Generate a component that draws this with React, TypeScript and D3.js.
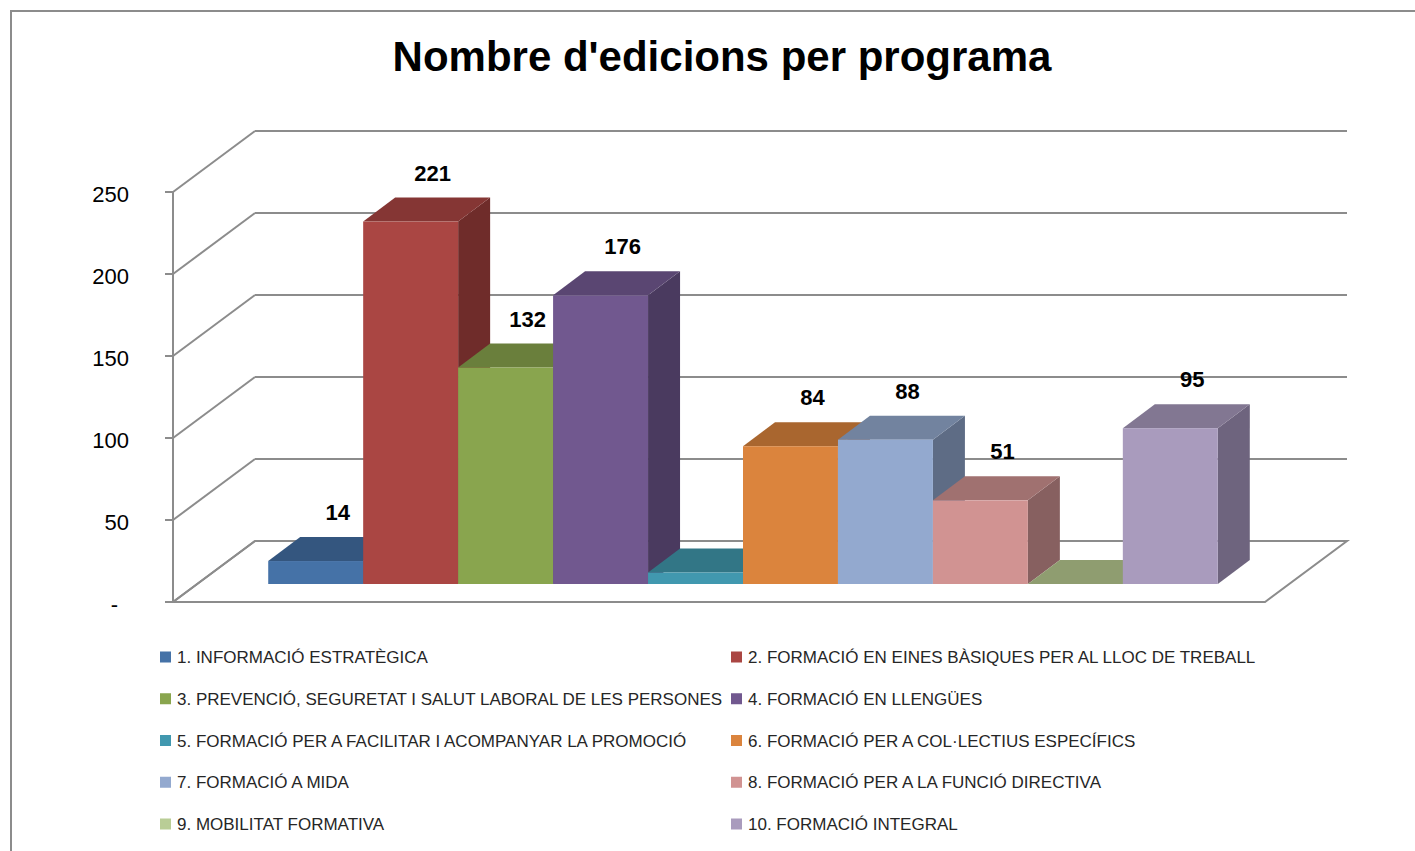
import React from "react";
import * as d3 from "d3";

const programs = [
  "1. INFORMACIÓ ESTRATÈGICA",
  "2. FORMACIÓ EN EINES BÀSIQUES PER AL LLOC DE TREBALL",
  "3. PREVENCIÓ, SEGURETAT I SALUT LABORAL DE LES PERSONES",
  "4. FORMACIÓ EN LLENGÜES",
  "5. FORMACIÓ PER A FACILITAR I ACOMPANYAR LA PROMOCIÓ",
  "6. FORMACIÓ PER A COL·LECTIUS ESPECÍFICS",
  "7. FORMACIÓ A MIDA",
  "8. FORMACIÓ PER A LA FUNCIÓ DIRECTIVA",
  "9. MOBILITAT FORMATIVA",
  "10. FORMACIÓ INTEGRAL",
];
const editions = [14, 221, 132, 176, 7, 84, 88, 51, 0, 95];
const labelShown = [true, true, true, true, false, true, true, true, false, true];
const yTicks = [0, 50, 100, 150, 200, 250];
const title = "Nombre d'edicions per programa";

const frontColors = ["#4572A7", "#AA4643", "#89A54E", "#71588F", "#4198AF", "#DB843D", "#93A9CF", "#D19392", "#B9CD96", "#A99BBD"];
const topColors = ["#34567F", "#853634", "#6A7F3C", "#5A4672", "#327686", "#A9662F", "#72839F", "#A07170", "#8F9D70", "#827792"];
const sideColors = ["#2C4A6D", "#6F2C2A", "#5A6C33", "#4A3A5F", "#2A6371", "#8F5628", "#5E6C85", "#876060", "#79855F", "#6E647E"];

const W = 1415;
const H = 851;
const FRONT_X0 = 173;
const FRONT_X1 = 1265;
const DEPTH_DX = 82;
const DEPTH_DY = -61;
const BAR_OFF_X = 24;
const BAR_OFF_Y = -18;
const BAR_DX = 32;
const BAR_DY = -24;
const GRID = "#8c8c8c";

export default function App() {
  const y = d3.scaleLinear().domain([0, 250]).range([602, 192]);
  const x = d3
    .scaleBand<string>()
    .domain(programs)
    .range([FRONT_X0 + BAR_OFF_X, FRONT_X1 + BAR_OFF_X])
    .paddingInner(0)
    .paddingOuter(0.75);
  const bw = x.bandwidth();
  const y0 = y(0);

  const floor = [
    [FRONT_X0, y0],
    [FRONT_X1, y0],
    [FRONT_X1 + DEPTH_DX, y0 + DEPTH_DY],
    [FRONT_X0 + DEPTH_DX, y0 + DEPTH_DY],
  ];
  const pts = (p: number[][]) => p.map((d) => d.join(",")).join(" ");

  const legendRows = Math.ceil(programs.length / 2);
  const legendY = d3.scaleLinear().domain([0, legendRows - 1]).range([657, 824]);
  const legendX = [160, 731];

  return (
    <svg
      width={W}
      height={H}
      style={{ position: "absolute", left: 0, top: 0, background: "#fff" }}
      fontFamily="'Liberation Sans', Arial, sans-serif"
    >
      <rect x={0} y={0} width={W} height={H} fill="#fff" />
      <rect x={11} y={11} width={W + 20} height={H + 20} fill="none" stroke={GRID} strokeWidth={2} />

      <text x={722} y={71} textAnchor="middle" fontSize={42} fontWeight="bold" fill="#000">
        {title}
      </text>

      {/* floor */}
      <polygon points={pts(floor)} fill="#fff" stroke={GRID} strokeWidth={2} />

      {/* side wall diagonals and back wall gridlines */}
      {yTicks.map((t) => (
        <g key={"g" + t}>
          <line x1={FRONT_X0} y1={y(t)} x2={FRONT_X0 + DEPTH_DX} y2={y(t) + DEPTH_DY} stroke={GRID} strokeWidth={2} />
          <line
            x1={FRONT_X0 + DEPTH_DX}
            y1={y(t) + DEPTH_DY}
            x2={FRONT_X1 + DEPTH_DX}
            y2={y(t) + DEPTH_DY}
            stroke={GRID}
            strokeWidth={2}
          />
        </g>
      ))}

      {/* front value axis */}
      <line x1={FRONT_X0} y1={y(250)} x2={FRONT_X0} y2={y0} stroke={GRID} strokeWidth={2} />
      {yTicks.map((t) => (
        <g key={"t" + t}>
          <line x1={FRONT_X0 - 8} y1={y(t)} x2={FRONT_X0} y2={y(t)} stroke={GRID} strokeWidth={2} />
          <text x={t === 0 ? 118 : 129} y={y(t) + 10} textAnchor="end" fontSize={22} fill="#000">
            {t === 0 ? "-" : d3.format("d")(t)}
          </text>
        </g>
      ))}

      {/* bars, left to right */}
      {programs.map((p, i) => {
        const v = editions[i];
        const x0 = x(p)!;
        const x1 = x0 + bw;
        const yT = y(v) + BAR_OFF_Y;
        const yB = y0 + BAR_OFF_Y;
        const side = [
          [x1, yT],
          [x1 + BAR_DX, yT + BAR_DY],
          [x1 + BAR_DX, yB + BAR_DY],
          [x1, yB],
        ];
        const top = [
          [x0, yT],
          [x1, yT],
          [x1 + BAR_DX, yT + BAR_DY],
          [x0 + BAR_DX, yT + BAR_DY],
        ];
        return (
          <g key={"b" + i}>
            <polygon points={pts(side)} fill={sideColors[i]} />
            <polygon points={pts(top)} fill={topColors[i]} />
            {yB - yT > 0 && <rect x={x0} y={yT} width={bw} height={yB - yT} fill={frontColors[i]} />}
          </g>
        );
      })}

      {/* value labels */}
      {programs.map((p, i) =>
        labelShown[i] ? (
          <text
            key={"l" + i}
            x={x(p)! + bw / 2 + 22}
            y={y(editions[i]) + BAR_OFF_Y + BAR_DY - 17}
            textAnchor="middle"
            fontSize={22}
            fontWeight="bold"
            fill="#000"
          >
            {editions[i]}
          </text>
        ) : null
      )}

      {/* legend */}
      {programs.map((p, i) => {
        const col = i % 2;
        const row = Math.floor(i / 2);
        const cy = legendY(row);
        return (
          <g key={"lg" + i}>
            <rect x={legendX[col]} y={cy - 5.5} width={11} height={11} fill={frontColors[i]} />
            <text x={legendX[col] + 17} y={cy + 6} fontSize={17} fill="#262626">
              {p}
            </text>
          </g>
        );
      })}
    </svg>
  );
}
